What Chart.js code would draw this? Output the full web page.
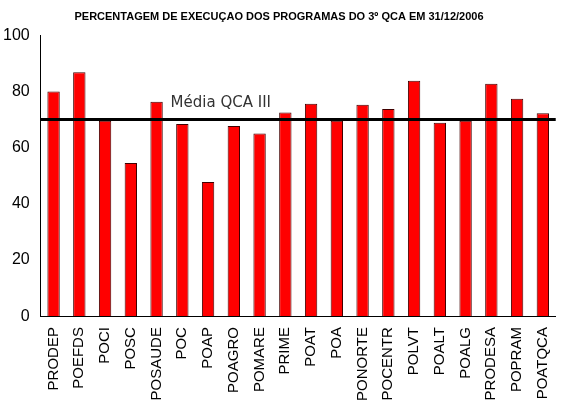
<!DOCTYPE html>
<html><head><meta charset="utf-8">
<script src="https://cdn.jsdelivr.net/npm/chart.js@4/dist/chart.umd.min.js"></script>
<style>html,body{margin:0;padding:0;background:#fff}#w{width:564px;height:406px}</style>
</head><body><div id="w"><canvas id="c"></canvas></div>
<script>
const categories=["PRODEP","POEFDS","POCI","POSC","POSAUDE","POC","POAP","POAGRO","POMARE","PRIME","POAT","POA","PONORTE","POCENTR","POLVT","POALT","POALG","PRODESA","POPRAM","POATQCA"];
const values=[80,86.8,69.5,54.5,76.3,68.4,47.7,67.7,65,72.5,75.6,69.5,75.2,73.7,83.8,68.8,69.5,82.7,77.4,72.2];
const average=70;
const averageLabel="Média QCA III";
const title="PERCENTAGEM DE EXECUÇAO DOS PROGRAMAS DO 3º QCA EM 31/12/2006";
const avgPlugin={id:'avg',afterDatasetsDraw(ch){const {ctx,chartArea:a,scales:{y}}=ch;const py=y.getPixelForValue(average);
ctx.save();ctx.strokeStyle='#000';ctx.lineWidth=3;ctx.beginPath();ctx.moveTo(a.left,py);ctx.lineTo(a.right,py);ctx.stroke();
ctx.fillStyle='#333';ctx.font='15px "DejaVu Sans"';ctx.textBaseline='bottom';ctx.fillText(averageLabel,ch.scales.x.getPixelForValue(4)+14,py-9);ctx.restore();}};
new Chart(document.getElementById('c'),{type:'bar',
data:{labels:categories,datasets:[{data:values,backgroundColor:'#ff0000',borderColor:'#400000',borderWidth:1,categoryPercentage:1,barPercentage:0.48}]},
options:{responsive:true,maintainAspectRatio:false,animation:false,
layout:{padding:{left:0,right:6,top:0,bottom:2}},
plugins:{legend:{display:false},tooltip:{enabled:false},title:{display:true,text:title,color:'#000',font:{family:'"Liberation Sans"',size:11,weight:'bold'},padding:{top:10,bottom:12}}},
scales:{x:{grid:{display:false,drawTicks:true},border:{color:'#000'},ticks:{color:'#000',minRotation:90,maxRotation:90,autoSkip:false,font:{family:'"Liberation Sans"',size:15}}},
y:{min:0,max:100,grid:{display:false},border:{color:'#000'},ticks:{stepSize:20,color:'#000',font:{family:'"Liberation Sans"',size:16}}}}},
plugins:[avgPlugin]});
</script></body></html>
